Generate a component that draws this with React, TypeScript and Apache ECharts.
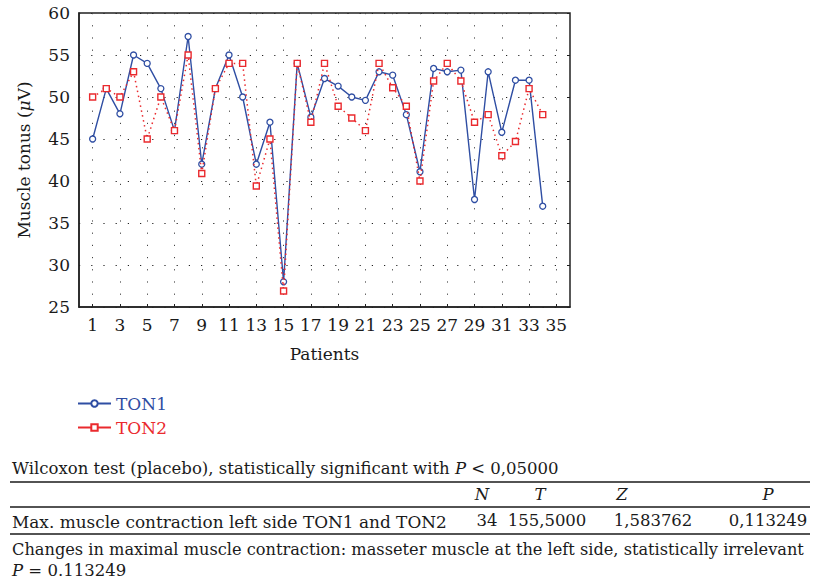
import React, { useEffect, useRef } from "react";
import * as echarts from "echarts";

const xCategories = ["0","1","2","3","4","5","6","7","8","9","10","11","12","13","14","15","16","17","18","19","20","21","22","23","24","25","26","27","28","29","30","31","32","33","34","35","36"];
const patients = [1,2,3,4,5,6,7,8,9,10,11,12,13,14,15,16,17,18,19,20,21,22,23,24,25,26,27,28,29,30,31,32,33,34];
const ton1 = [45,51,48,55,54,51,46,57.2,42,51,55,50,42,47,28,54,47.6,52.2,51.3,50,49.6,53,52.6,47.9,41.1,53.4,53,53.2,37.8,53,45.8,52,52,37];
const ton2 = [50,51,50,53,45,50,46,55,40.9,51,54,54,39.4,45,26.9,54,47,54,48.9,47.5,46,54,51.1,48.9,40,51.9,54,51.9,47,47.9,43,44.7,51,47.9];
const seriesNames = ["TON1", "TON2"];
const yMin = 25, yMax = 60, yStep = 5;

const headerCols = ["N", "T", "Z", "P"];
const rowLabel = "Max. muscle contraction left side TON1 and TON2";
const rowValues = ["34", "155,5000", "1,583762", "0,113249"];

const FONT = "DejaVu Serif";
const BLUE = "#2f4ea3";
const RED = "#ea2a2e";
const INK = "#1a1a1a";

export default function App() {
  const ref = useRef<HTMLDivElement>(null);
  useEffect(() => {
    if (!ref.current) return;
    const chart = echarts.init(ref.current, null, { renderer: "svg" });
    const oddOnly = (i: number) => i % 2 === 1;
    const colX = [482, 540, 622, 768];
    const valX = [487, 547, 653, 768];
    const FS = 17;
    const TS = 16.5;
    const option: any = {
      animation: false,
      backgroundColor: "#fff",
      textStyle: { fontFamily: FONT },
      grid: {
        left: 79, top: 13, right: 244, bottom: 275,
        show: true, borderColor: "#222", borderWidth: 1.5, backgroundColor: "transparent",
      },
      legend: {
        orient: "vertical", left: 72, top: 390,
        itemWidth: 33, itemHeight: 8, itemGap: 7,
        textStyle: { fontSize: FS, fontFamily: FONT },
        data: [
          { name: seriesNames[0], textStyle: { color: BLUE, fontSize: FS, fontFamily: FONT } },
          { name: seriesNames[1], textStyle: { color: RED, fontSize: FS, fontFamily: FONT }, lineStyle: { type: "solid" } },
        ],
      },
      xAxis: {
        type: "category", data: xCategories, boundaryGap: false,
        name: "Patients", nameLocation: "middle", nameGap: 38,
        nameTextStyle: { fontSize: FS, fontFamily: FONT, color: INK },
        axisLine: { show: true, lineStyle: { color: "#222", width: 1.5 } },
        axisTick: { show: true, inside: true, length: 3, interval: oddOnly, lineStyle: { color: "#222" } },
        axisLabel: { interval: oddOnly, fontSize: FS, fontFamily: FONT, color: INK, margin: 9 },
        splitLine: { show: true, interval: oddOnly, lineStyle: { color: "#444", width: 1, type: [1.2, 11] } },
      },
      yAxis: [
        {
          type: "value", min: yMin, max: yMax, interval: yStep,
          name: "Muscle tonus ({i|μ}V)", nameLocation: "middle", nameGap: 47,
          nameTextStyle: { fontSize: FS, fontFamily: FONT, color: INK, rich: { i: { fontStyle: "italic", fontSize: FS, fontFamily: FONT, color: INK } } },
          axisLine: { show: true, lineStyle: { color: "#222", width: 1.5 } },
          axisTick: { show: false },
          axisLabel: { fontSize: FS, fontFamily: FONT, color: INK, margin: 9 },
          splitLine: { show: true, lineStyle: { color: "#222", width: 1.2, type: [1.2, 11] } },
        },
        {
          type: "value", min: yMin, max: yMax, interval: yStep, position: "right",
          axisLine: { show: false },
          axisTick: { show: true, inside: true, length: 3, lineStyle: { color: "#222" } },
          axisLabel: { show: false },
          splitLine: { show: false },
        },
      ],
      series: [
        {
          name: seriesNames[0], type: "line",
          data: patients.map((p, i) => [String(p), ton1[i]]),
          symbol: "circle", symbolSize: 6,
          lineStyle: { color: BLUE, width: 1.4 },
          itemStyle: { color: "#fff", borderColor: BLUE, borderWidth: 1.3 },
          z: 2,
        },
        {
          name: seriesNames[1], type: "line",
          data: patients.map((p, i) => [String(p), ton2[i]]),
          symbol: "rect", symbolSize: 6,
          lineStyle: { color: RED, width: 1.5, type: [1.5, 3.5] },
          itemStyle: { color: "#fff", borderColor: RED, borderWidth: 1.4 },
          z: 3,
        },
      ],
      graphic: [
        {
          type: "text", x: 12, y: 468,
          style: {
            text: "Wilcoxon test (placebo), statistically significant with {i|P} < 0,05000",
            fontSize: TS, fontFamily: FONT, fill: INK, verticalAlign: "middle",
            rich: { i: { fontStyle: "italic", fontSize: TS, fontFamily: FONT, fill: INK } },
          },
        },
        { type: "line", shape: { x1: 10, y1: 482, x2: 810, y2: 482 }, style: { stroke: INK, lineWidth: 1.6 } },
        ...headerCols.map((h, i) => ({
          type: "text", x: colX[i], y: 494,
          style: { text: h, fontSize: TS, fontStyle: "italic", fontFamily: FONT, fill: INK, align: "center", verticalAlign: "middle" },
        })),
        { type: "line", shape: { x1: 10, y1: 507, x2: 810, y2: 507 }, style: { stroke: INK, lineWidth: 1.4 } },
        {
          type: "text", x: 12, y: 522,
          style: { text: rowLabel, fontSize: 16.9, fontFamily: FONT, fill: INK, verticalAlign: "middle" },
        },
        ...rowValues.map((v, i) => ({
          type: "text", x: valX[i], y: 520,
          style: { text: v, fontSize: TS, fontFamily: FONT, fill: INK, align: "center", verticalAlign: "middle" },
        })),
        { type: "line", shape: { x1: 10, y1: 534, x2: 810, y2: 534 }, style: { stroke: INK, lineWidth: 1.6 } },
        {
          type: "text", x: 12, y: 549,
          style: {
            text: "Changes in maximal muscle contraction: masseter muscle at the left side, statistically irrelevant",
            fontSize: 16.2, fontFamily: FONT, fill: INK, verticalAlign: "middle",
          },
        },
        {
          type: "text", x: 12, y: 570,
          style: {
            text: "{i|P} = 0.113249",
            fontSize: TS, fontFamily: FONT, fill: INK, verticalAlign: "middle",
            rich: { i: { fontStyle: "italic", fontSize: TS, fontFamily: FONT, fill: INK } },
          },
        },
      ],
    };
    chart.setOption(option);
    return () => chart.dispose();
  }, []);
  return <div ref={ref} style={{ position: "absolute", left: 0, top: 0, width: 814, height: 582 }} />;
}
